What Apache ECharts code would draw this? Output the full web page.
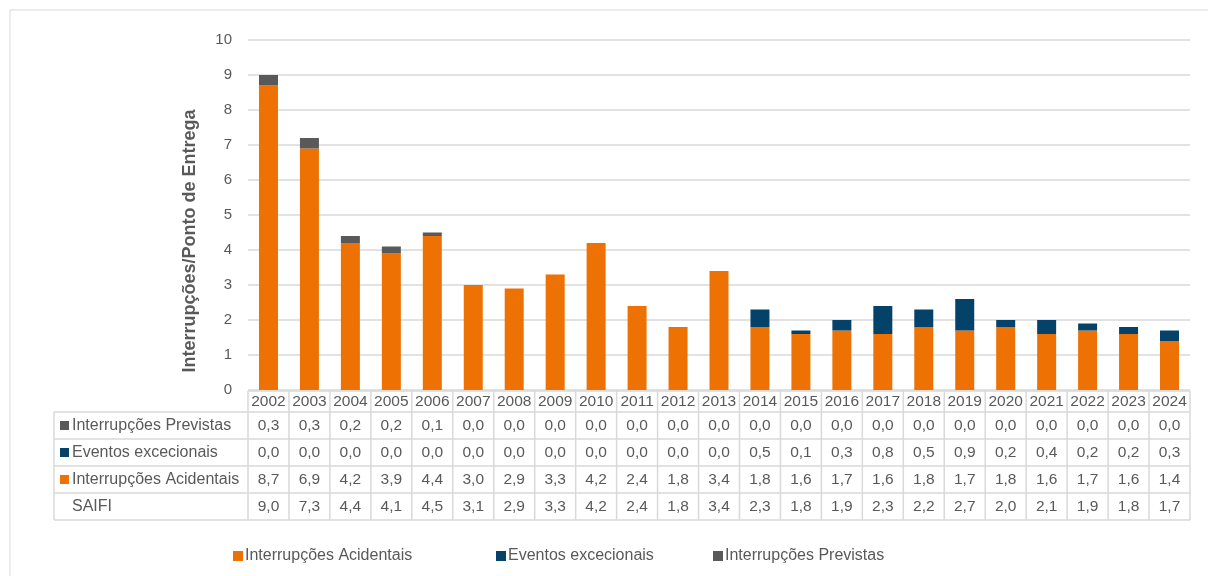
<!DOCTYPE html>
<html>
<head>
<meta charset="utf-8">
<script src="https://cdn.jsdelivr.net/npm/echarts@6/dist/echarts.min.js"></script>
<style>
  html, body { margin: 0; padding: 0; background: #fff; }
  #main { width: 1208px; height: 576px; }
</style>
</head>
<body>
<div id="main"></div>
<script>
// dados (SAIFI por ano)
var years = ['2002','2003','2004','2005','2006','2007','2008','2009','2010','2011','2012','2013','2014','2015','2016','2017','2018','2019','2020','2021','2022','2023','2024'];
var previstas   = [0.3,0.3,0.2,0.2,0.1,0.0,0.0,0.0,0.0,0.0,0.0,0.0,0.0,0.0,0.0,0.0,0.0,0.0,0.0,0.0,0.0,0.0,0.0];
var excecionais = [0.0,0.0,0.0,0.0,0.0,0.0,0.0,0.0,0.0,0.0,0.0,0.0,0.5,0.1,0.3,0.8,0.5,0.9,0.2,0.4,0.2,0.2,0.3];
var acidentais  = [8.7,6.9,4.2,3.9,4.4,3.0,2.9,3.3,4.2,2.4,1.8,3.4,1.8,1.6,1.7,1.6,1.8,1.7,1.8,1.6,1.7,1.6,1.4];
var saifi       = [9.0,7.3,4.4,4.1,4.5,3.1,2.9,3.3,4.2,2.4,1.8,3.4,2.3,1.8,1.9,2.3,2.2,2.7,2.0,2.1,1.9,1.8,1.7];

var names = ['Interrupções Acidentais', 'Eventos excecionais', 'Interrupções Previstas'];
var colors = ['#EE7203', '#05426A', '#595959'];

var FONT = 'Liberation Sans, Arial, sans-serif';
var TXT = '#595959';
var LINE = '#D9D9D9';

var myChart = echarts.init(document.getElementById('main'));

var option = {
    animation: false,
    textStyle: { fontFamily: FONT },
    grid: { left: 248, right: 18, top: 40, bottom: 186 },
    legend: [0, 1, 2].map(function (i) {
        return {
            data: [names[i]],
            left: [228, 491, 708][i],
            top: 543,
            itemWidth: 10,
            itemHeight: 10,
            itemGap: 0,
            icon: 'rect',
            selectedMode: false,
            textStyle: { color: TXT, fontSize: 16, fontFamily: FONT, padding: [0, 0, 0, -3] }
        };
    }),
    xAxis: {
        type: 'category',
        data: years,
        axisLine: { show: false },
        axisTick: { show: false },
        axisLabel: { show: false }
    },
    yAxis: {
        type: 'value',
        min: 0,
        max: 10,
        interval: 1,
        axisLabel: { color: TXT, fontSize: 15, margin: 16 },
        axisLine: { show: false },
        axisTick: { show: false },
        splitLine: { lineStyle: { color: LINE, width: 1.5 } }
    },
    series: [acidentais, excecionais, previstas].map(function (d, i) {
        return {
            name: names[i],
            type: 'bar',
            stack: 'saifi',
            data: d,
            barWidth: 19,
            itemStyle: { color: colors[i] }
        };
    })
};

myChart.setOption(option);

// tabela de dados por baixo do gráfico
function fmt(v) { return v.toFixed(1).replace('.', ','); }

var centers = years.map(function (y) { return myChart.convertToPixel({ xAxisIndex: 0 }, y); });
var step = centers[1] - centers[0];
var x0 = centers[0] - step / 2;
var x1 = centers[centers.length - 1] + step / 2;
var labelLeft = 54;
var rowTops = [391, 412, 439, 466, 493, 520];
var rows = [
    { label: 'Interrupções Previstas', color: colors[2], data: previstas },
    { label: 'Eventos excecionais', color: colors[1], data: excecionais },
    { label: 'Interrupções Acidentais', color: colors[0], data: acidentais },
    { label: 'SAIFI', color: null, data: saifi }
];

var g = [];
var ls = { stroke: LINE, lineWidth: 1.5 };
// linhas horizontais
g.push({ type: 'line', shape: { x1: x0, y1: rowTops[0], x2: x1, y2: rowTops[0] }, style: ls });
for (var r = 1; r < rowTops.length; r++) {
    g.push({ type: 'line', shape: { x1: labelLeft, y1: rowTops[r], x2: x1, y2: rowTops[r] }, style: ls });
}
// linhas verticais
g.push({ type: 'line', shape: { x1: labelLeft, y1: rowTops[1], x2: labelLeft, y2: rowTops[5] }, style: ls });
for (var c = 0; c <= years.length; c++) {
    var xx = x0 + c * step;
    g.push({ type: 'line', shape: { x1: xx, y1: rowTops[0], x2: xx, y2: rowTops[5] }, style: ls });
}
// anos
years.forEach(function (y, i) {
    g.push({ type: 'text', x: centers[i], y: (rowTops[0] + rowTops[1]) / 2,
        style: { text: y, fill: TXT, font: '15.5px ' + FONT, align: 'center', verticalAlign: 'middle' } });
});
// linhas de dados
rows.forEach(function (row, r) {
    var cy = (rowTops[r + 1] + rowTops[r + 2]) / 2;
    if (row.color) {
        g.push({ type: 'rect', shape: { x: 60, y: cy - 4.5, width: 9, height: 9 }, style: { fill: row.color } });
    }
    g.push({ type: 'text', x: 72, y: cy,
        style: { text: row.label, fill: TXT, font: '16px ' + FONT, align: 'left', verticalAlign: 'middle' } });
    row.data.forEach(function (v, i) {
        g.push({ type: 'text', x: centers[i], y: cy,
            style: { text: fmt(v), fill: TXT, font: '15.5px ' + FONT, align: 'center', verticalAlign: 'middle' } });
    });
});
// título do eixo Y
g.push({ type: 'text', x: 190, y: 241, rotation: Math.PI / 2,
    style: { text: 'Interrupções/Ponto de Entrega', fill: TXT, font: 'bold 18px ' + FONT, align: 'center', verticalAlign: 'middle' } });
// moldura exterior
g.push({ type: 'polyline', shape: { points: [[10, 576], [10, 10], [1208, 10]] }, style: { stroke: LINE, lineWidth: 1, fill: null } });

myChart.setOption({ graphic: g });
</script>
</body>
</html>
